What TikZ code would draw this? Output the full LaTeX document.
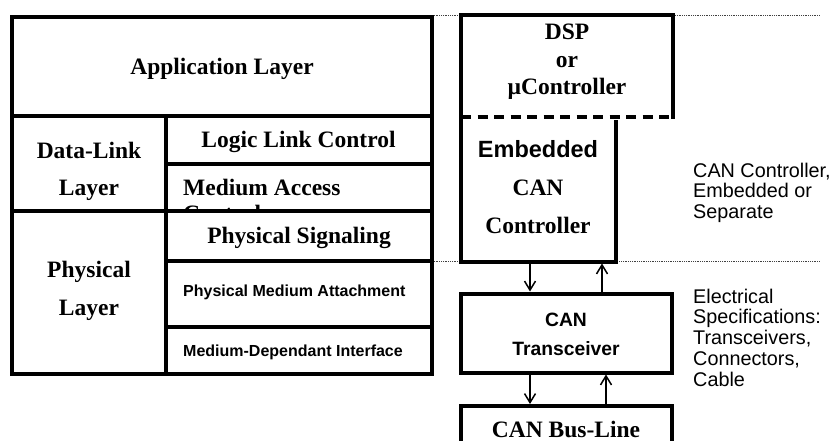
\documentclass[tikz,border=0pt]{standalone}
\usepackage{fontspec}
\setmainfont{Liberation Serif}
\setsansfont{Liberation Sans}
\usetikzlibrary{arrows.meta,calc}
\newcommand\stk[2][c]{\begin{tabular}[t]{@{}#1@{}}#2\end{tabular}}
\begin{document}
\begin{tikzpicture}[x=1pt,y=-1pt,
  cell/.style={draw, line width=4pt, inner sep=0pt, outer sep=0pt, anchor=north west},
  area/.style={draw=none, inner sep=0pt, outer sep=0pt, anchor=north west},
  thk/.style={line width=4pt, line cap=rect},
  dashl/.style={line width=3.5pt, dash pattern=on 10pt off 6.5pt},
  dotl/.style={line width=0.8pt, black!75, dash pattern=on 0.8pt off 1pt},
  arr/.style={line width=1.5pt, shorten >=2pt, -{Straight Barb[length=9pt,width=11pt]}},
  serif/.style={font=\bfseries\fontsize{23.5}{27.5}\selectfont, inner sep=0pt, anchor=base},
  sanssm/.style={font=\sffamily\bfseries\fontsize{16}{19}\selectfont, inner sep=0pt, anchor=base west},
  sansmd/.style={font=\sffamily\bfseries\fontsize{19.3}{29}\selectfont, inner sep=0pt, anchor=base},
  note/.style={font=\sffamily\fontsize{19.8}{20.9}\selectfont, inner sep=0pt, anchor=base west}
]
\useasboundingbox (0,0) rectangle (834,441);

% layout areas (right side)
\node[area, minimum width=212pt, minimum height=101.5pt] (dsp) at (461,15.5) {};
\node[area, minimum width=154.5pt, minimum height=144.5pt] (emb) at (461,117) {};
\node[area, minimum width=211pt, minimum height=40pt] (bus) at (461,406) {};

% dotted guide lines
\coordinate (e1) at (820,15.5);
\coordinate (e2) at (820,261.5);
\coordinate (s1) at (432,15.5);
\coordinate (s2) at (432,261.5);
\draw[dotl] (s1) -- (e1);
\draw[dotl] (s2) -- (e2);

% text of Medium Access Control, clipped by the box below
\begin{scope}
  \clip (165.5,164) rectangle (432,208.5);
  \node[serif, anchor=base west, font=\bfseries\fontsize{23.5}{26}\selectfont] (tMAC) at (183,195) {\stk[l]{Medium Access\\Control}};
\end{scope}

% left stack cells
\node[cell, minimum width=420pt, minimum height=98.5pt] (app) at (12,17) {};
\node[cell, minimum width=153.5pt, minimum height=95pt] (dll) at (12,115.5) {};
\node[cell, minimum width=266.5pt, minimum height=48.5pt] (llc) at (165.5,115.5) {};
\node[cell, minimum width=266.5pt, minimum height=46.5pt] (mac) at (165.5,164) {};
\node[cell, minimum width=153.5pt, minimum height=163.5pt] (phl) at (12,210.5) {};
\node[cell, minimum width=266.5pt, minimum height=50.5pt] (ps) at (165.5,210.5) {};
\node[cell, minimum width=266.5pt, minimum height=66pt] (pma) at (165.5,261) {};
\node[cell, minimum width=266.5pt, minimum height=47pt] (mdi) at (165.5,327) {};

% left stack texts
\node[serif] (tApp) at (222,75) {Application Layer};
\node[serif] (tLLC) at (298.5,147) {Logic Link Control};
\node[serif] (tPS) at (299,243) {Physical Signaling};
\node[sanssm] (tPMA) at (183,296) {Physical Medium Attachment};
\node[sanssm] (tMDI) at (183,356) {Medium-Dependant Interface};
\node[serif, font=\bfseries\fontsize{23.5}{37.5}\selectfont] (tDLL) at (89,158) {\stk{Data-Link\\Layer}};
\node[serif, font=\bfseries\fontsize{23.5}{38}\selectfont] (tPHL) at (89,277) {\stk{Physical\\Layer}};

% DSP / embedded controller outline
\draw[thk] (emb.south east) -- (emb.south west) -- (dsp.north west) -- (dsp.north east) -- (dsp.south east);
\draw[thk] (emb.south east) -- ($(emb.north east)+(0,5)$);
\draw[dashl] (dsp.south west) -- (dsp.south east);

% transceiver and bus line
\node[cell, minimum width=211pt, minimum height=79pt] (trx) at (461,293.5) {};
\draw[thk] ($(bus.south west)+(0,10)$) -- (bus.north west) -- (bus.north east) -- ($(bus.south east)+(0,10)$);

% right column texts
\node[serif, font=\bfseries\fontsize{23.5}{27.5}\selectfont] (tDSP) at (567,40) {\stk{DSP\\or\\µController}};
\node[serif, font=\bfseries\fontsize{23.5}{38.3}\selectfont] (tEmb) at (538,157) {\stk{{\sffamily Embedded}\\CAN\\Controller}};
\node[sansmd] (tTrx) at (566,326) {\stk{CAN\\Transceiver}};
\node[serif] (tBus) at (566,437) {CAN Bus-Line};

\node[note] (n1) at (693,177) {\stk[l]{CAN Controller,\\Embedded or\\Separate}};
\node[note] (n2) at (693,303) {\stk[l]{Electrical\\Specifications:\\Transceivers,\\Connectors,\\Cable}};

% arrows
\coordinate (a1) at (530,0);
\coordinate (a2) at (602,0);
\coordinate (b1) at (530,0);
\coordinate (b2) at (606,0);
\draw[arr] (emb.south -| a1) -- (trx.north -| a1);
\draw[arr] (trx.north -| a2) -- (emb.south -| a2);
\draw[arr] (trx.south -| b1) -- (bus.north -| b1);
\draw[arr] (bus.north -| b2) -- (trx.south -| b2);
\end{tikzpicture}
\end{document}
